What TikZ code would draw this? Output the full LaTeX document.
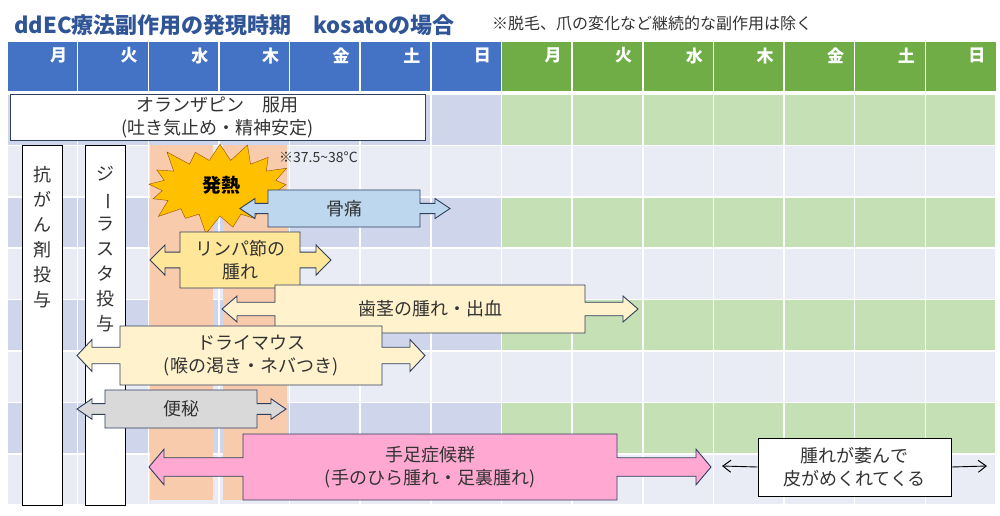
\documentclass[tikz,border=0pt]{standalone}
\usepackage{fontspec}
\setmainfont{Noto Sans CJK JP}
\usetikzlibrary{shapes.symbols,positioning,arrows.meta}
\definecolor{hdrblue}{HTML}{4472C4}
\definecolor{hdrgreen}{HTML}{70AD47}
\definecolor{rowblue}{HTML}{CFD5EA}
\definecolor{rowpale}{HTML}{E9EBF5}
\definecolor{rowgreen}{HTML}{C5E0B4}
\definecolor{feverband}{HTML}{F8CBAD}
\definecolor{titleblue}{HTML}{2F5597}
\definecolor{edgeblue}{HTML}{2F3F5F}
\definecolor{feverfill}{HTML}{FFC000}
\definecolor{bonefill}{HTML}{BDD7EE}
\definecolor{lymphfill}{HTML}{FFE699}
\definecolor{gumfill}{HTML}{FFF2CC}
\definecolor{handfill}{HTML}{FFA9D2}
\tikzset{
  cell/.style={draw=white, line width=1.5pt},
  label/.style={font=\fontsize{18}{23}\selectfont, text=black!80, align=center},
  daylabel/.style={font=\fontsize{17}{20}\selectfont\bfseries, text=white, anchor=north east},
  callout/.style={draw=edgeblue, line width=0.9pt},
  plainbox/.style={draw=black, line width=0.9pt, fill=white},
  thinarrow/.style={-{Straight Barb[length=8pt,width=12pt,line width=1pt]}, line width=0.9pt},
}
% double arrow callout: name, tipL, boxL, boxR, tipR, ytop, ybot, fill, text
\newcommand\dblcallout[9]{%
  \pgfmathsetmacro\cy{(#6+#7)/2}
  \pgfmathsetmacro\hh{0.27*(#7-#6)}
  \pgfmathsetmacro\sh{0.14*(#7-#6)}
  \draw[callout, fill=#8] (#3,#6) -- (#4,#6) -- (#4,\cy-\sh) -- (#5-15,\cy-\sh) -- (#5-15,\cy-\hh) -- (#5,\cy)
    -- (#5-15,\cy+\hh) -- (#5-15,\cy+\sh) -- (#4,\cy+\sh) -- (#4,#7) -- (#3,#7) -- (#3,\cy+\sh)
    -- (#2+15,\cy+\sh) -- (#2+15,\cy+\hh) -- (#2,\cy) -- (#2+15,\cy-\hh) -- (#2+15,\cy-\sh) -- (#3,\cy-\sh) -- cycle;
  \node[label] (#1) at ({(#3+#4)/2},\cy) {#9};
}
\begin{document}
\begin{tikzpicture}[x=1pt,y=-1pt]
\useasboundingbox (0,0) rectangle (1000,515);
% title
\node[anchor=west, text=titleblue, font=\fontsize{22}{26}\selectfont\bfseries, inner sep=0pt] (title) at (14,25) {ddEC療法副作用の発現時期　kosatoの場合};
\node[anchor=west, text=black!80, font=\fontsize{16}{20}\selectfont, inner sep=0pt] (note) at (492,23) {※脱毛、爪の変化など継続的な副作用は除く};
% header and grid
\foreach \d [count=\i from 0] in {月,火,水,木,金,土,日,月,火,水,木,金,土,日} {
  \pgfmathsetmacro\xa{7+\i*70.64}
  \pgfmathsetmacro\xb{7+(\i+1)*70.64}
  \ifnum\i<7 \def\hc{hdrblue}\def\dc{rowblue}\else \def\hc{hdrgreen}\def\dc{rowgreen}\fi
  \fill[\hc] (\xa,42) rectangle (\xb,91);
  \draw[white, line width=1.5pt] (\xa,42) -- (\xa,91);
  \node[daylabel] (day\i) at (\xb-7,44) {\d};
  \foreach \j in {0,...,7} {
    \pgfmathsetmacro\ya{94+\j*51.4}
    \pgfmathsetmacro\yb{94+(\j+1)*51.4}
    \ifodd\j \def\fc{rowpale}\else \def\fc{\dc}\fi
    \filldraw[cell, fill=\fc] (\xa,\ya) rectangle (\xb,\yb);
  }
}
% fever days
\fill[feverband] (150,145) rectangle (213,500);
\fill[feverband] (223,145) rectangle (287,500);
% olanzapine
\node[plainbox, draw=edgeblue, minimum width=415pt, minimum height=46pt, label, inner sep=0pt] (olanz) at (217.5,117) {オランザピン　服用\\(吐き気止め・精神安定)};
% drug administration
\draw[plainbox] (22,145) rectangle (62,505);
\node[label, anchor=north, font=\fontsize{18}{25}\selectfont] (chemo) at (42,163) {抗\\が\\ん\\剤\\投\\与};
\draw[plainbox] (85,145) rectangle (125,505);
\node[label, anchor=north, font=\fontsize{18}{25}\selectfont] (gsta) at (105,163) {ジ\\\rotatebox[origin=c]{-90}{ー}\\ラ\\ス\\タ\\投\\与};
% fever
\node[starburst, starburst points=17, starburst point height=22pt, fill=feverfill, draw=orange!60!black,
  minimum width=160pt, minimum height=100pt, inner sep=0pt] (fever) at (220,188) {};
\node[font=\fontsize{19}{22}\selectfont\bfseries] (feverlbl) at (221,185) {発熱};
\node[anchor=west, font=\fontsize{14}{16}\selectfont, text=black!80, inner sep=0pt] (temp) at (279,157) {※37.5\char"007E 38°C};
% symptoms
\dblcallout{bone}{240}{268}{420}{450}{190}{227}{bonefill}{骨痛}
\dblcallout{lymph}{150}{180}{300}{331}{232}{288}{lymphfill}{リンパ節の\\腫れ}
\dblcallout{gum}{222}{275}{585}{638}{285}{333}{gumfill}{歯茎の腫れ・出血}
\dblcallout{drymouth}{77}{120}{382}{425}{326}{385}{gumfill}{ドライマウス\\(喉の渇き・ネバつき)}
\dblcallout{constip}{77}{105}{257}{286}{390}{428}{black!15}{便秘}
\dblcallout{handfoot}{149}{243}{617}{711}{434}{500}{handfill}{手足症候群\\(手のひら腫れ・足裏腫れ)}
% peeling
\node[plainbox, minimum width=193pt, minimum height=58pt, inner sep=0pt, label] (peel) at (854.5,467) {腫れが萎んで\\皮がめくれてくる};
\coordinate (peelL) at (722,466);
\coordinate (peelR) at (987,466);
\draw[thinarrow] (peel.west) -- (peelL);
\draw[thinarrow] (peel.east) -- (peelR);
\end{tikzpicture}
\end{document}
